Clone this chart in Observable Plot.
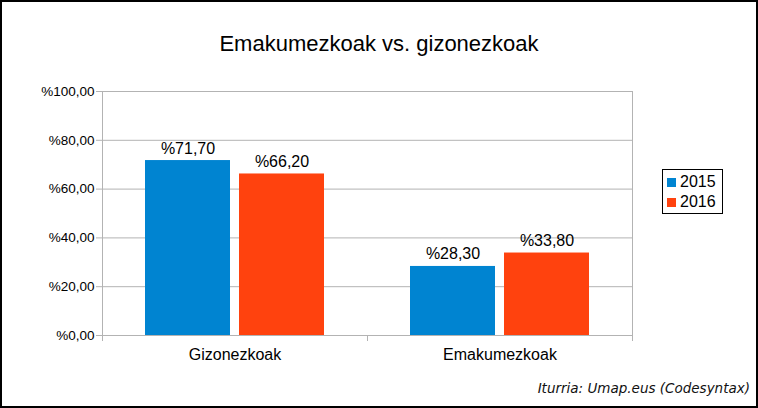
<!DOCTYPE html>
<html>
<head>
<meta charset="utf-8">
<script src="https://cdn.jsdelivr.net/npm/d3@7"></script>
<script src="https://cdn.jsdelivr.net/npm/@observablehq/plot@0.6"></script>
<style>
  html, body { margin: 0; padding: 0; background: #fff; }
  #wrap { position: relative; width: 758px; height: 408px; overflow: hidden; font-family: "Liberation Sans", Arial, sans-serif; background: #fff; }
  #border { position: absolute; left: 0; top: 0; width: 758px; height: 408px; box-sizing: border-box; border: 2px solid #000; pointer-events: none; }
  #title { position: absolute; left: 0; width: 758px; top: 33px; line-height: 22px; font-size: 22px; text-align: center; color: #000; }
  #chart { position: absolute; left: 0; top: 70px; }
  #legend { position: absolute; left: 662px; top: 169px; width: 59px; height: 43px; border: 1px solid #000; box-sizing: content-box; font-size: 16px; }
  .item { position: absolute; left: 4px; height: 20px; line-height: 20px; white-space: nowrap; }
  .sw { display: inline-block; width: 9px; height: 9px; margin-right: 4px; vertical-align: 0px; }
  #caption { position: absolute; right: 8px; top: 381px; line-height: 15px; font-family: "DejaVu Sans", sans-serif; font-size: 13.5px; font-style: italic; color: #111; }
</style>
</head>
<body>
<div id="wrap">
  <div id="title"></div>
  <div id="chart"></div>
  <div id="legend"></div>
  <div id="caption"></div>
  <div id="border"></div>
</div>
<script>
const titleText = "Emakumezkoak vs. gizonezkoak";
const captionText = "Iturria: Umap.eus (Codesyntax)";
const categories = ["Gizonezkoak", "Emakumezkoak"];
const years = ["2015", "2016"];
const values2015 = [71.7, 28.3];
const values2016 = [66.2, 33.8];
const yTicks = [0, 20, 40, 60, 80, 100];
const colors = ["#0084d1", "#ff420e"];

const fmt = d => "%" + d.toFixed(2).replace(".", ",");

const data = [];
categories.forEach((c, i) => {
  data.push({cat: c, year: years[0], value: values2015[i]});
  data.push({cat: c, year: years[1], value: values2016[i]});
});

document.getElementById("title").textContent = titleText;
document.getElementById("caption").textContent = captionText;

const legend = document.getElementById("legend");
years.forEach((y, i) => {
  const it = document.createElement("div");
  it.className = "item";
  it.style.top = (2 + i * 20) + "px";
  it.innerHTML = `<span class="sw" style="background:${colors[i]}"></span>${y}`;
  legend.appendChild(it);
});

const chart = Plot.plot({
  width: 758,
  height: 338,
  marginTop: 21,
  marginBottom: 73,
  marginLeft: 101,
  marginRight: 126,
  style: { fontFamily: "Liberation Sans, Arial, sans-serif", background: "transparent", color: "#000" },
  fx: { domain: categories, padding: 0, label: null },
  x: { domain: years, paddingInner: 0.096, paddingOuter: 0.457, axis: null },
  y: { domain: [0, 100], ticks: yTicks, label: null },
  color: { domain: years, range: colors },
  marks: [
    Plot.gridY(yTicks, { stroke: "#b3b3b3", strokeOpacity: 1 }),
    Plot.axisY(yTicks, { tickFormat: fmt, tickSize: 6, tickPadding: 2, fontSize: 13.5, stroke: "#b3b3b3", label: null }),
    Plot.axisFx({ anchor: "bottom", tickSize: 0, tickPadding: 13, fontSize: 16, label: null }),
    Plot.barY(data, { fx: "cat", x: "year", y: "value", fill: "year" }),
    Plot.text(data, { fx: "cat", x: "year", y: "value", text: d => fmt(d.value), dy: -7, lineAnchor: "bottom", fontSize: 16, fill: "#000" })
  ]
});
document.getElementById("chart").appendChild(chart);

// LibreOffice-style frame lines: left axis, right edge, and category boundary ticks
const fx = chart.scale("fx");
const y = chart.scale("y");
const svg = d3.select(chart.tagName === "svg" ? chart : chart.querySelector("svg"));
const bw = fx.bandwidth;
const edges = categories.map(c => fx.apply(c)).concat([fx.apply(categories[categories.length - 1]) + bw]);
const y0 = y.apply(0), y1 = y.apply(100);
const g = svg.append("g").attr("stroke", "#b3b3b3").attr("shape-rendering", "crispEdges");
edges.forEach((ex, i) => {
  const full = i === 0 || i === edges.length - 1;
  g.append("line").attr("x1", ex).attr("x2", ex).attr("y1", full ? y1 : y0).attr("y2", y0 + 6);
});
</script>
</body>
</html>
